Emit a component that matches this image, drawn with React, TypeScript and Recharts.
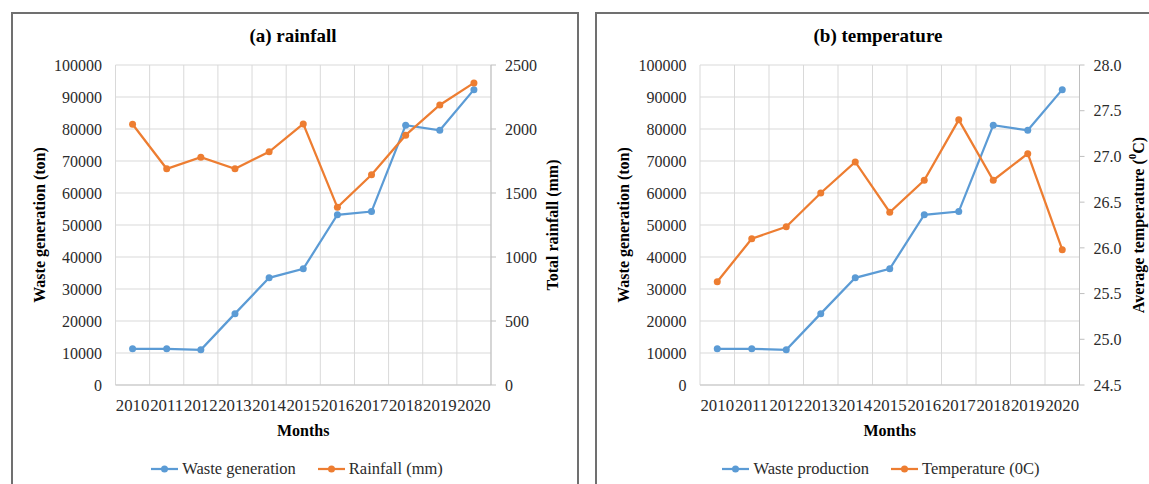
import { LineChart, Line, XAxis, YAxis, CartesianGrid, Label } from "recharts";

const years = ["2010", "2011", "2012", "2013", "2014", "2015", "2016", "2017", "2018", "2019", "2020"];
const wasteTon = [11300, 11300, 11000, 22300, 33500, 36300, 53200, 54200, 81200, 79600, 92300];
const rainfallMm = [2037, 1689, 1780, 1689, 1822, 2040, 1388, 1642, 1952, 2188, 2360];
const temperatureC = [25.63, 26.1, 26.23, 26.6, 26.94, 26.39, 26.74, 27.4, 26.74, 27.03, 25.98];

const wasteTicks = [0, 10000, 20000, 30000, 40000, 50000, 60000, 70000, 80000, 90000, 100000];
const rainfallTicks = [0, 500, 1000, 1500, 2000, 2500];
const temperatureTicks = [24.5, 25, 25.5, 26, 26.5, 27, 27.5, 28];

const BLUE = "#5B9BD5";
const ORANGE = "#ED7D31";
const GRID = "#d9d9d9";
const TEXT = "#2b2b2b";
const FONT = '"Liberation Serif", "Times New Roman", serif';

const rainfallData = years.map((year, i) => ({ year, waste: wasteTon[i], other: rainfallMm[i] }));
const temperatureData = years.map((year, i) => ({ year, waste: wasteTon[i], other: temperatureC[i] }));

// vertical grid lines sit between categories, like excel's category axis
const boundaryLines = (props: any) => {
  const { offset } = props;
  const step = offset.width / years.length;
  return years.map((_, i) => offset.left + i * step).concat(offset.left + offset.width);
};

function LegendItem({ color, name }: { color: string; name: string }) {
  return (
    <span style={{ display: "inline-flex", alignItems: "center" }}>
      <svg width={27} height={10}>
        <line x1={0} y1={5} x2={27} y2={5} stroke={color} strokeWidth={2.25} />
        <circle cx={13.5} cy={5} r={3.5} fill={color} />
      </svg>
      <span style={{ marginLeft: 4 }}>{name}</span>
    </span>
  );
}

type PanelProps = {
  x: number;
  width: number;
  data: any[];
  title: string;
  titleCenter: number;
  legendCenter: number;
  wasteName: string;
  otherName: string;
  margin: { top: number; right: number; bottom: number; left: number };
  leftWidth: number;
  rightWidth: number;
  rightDomain: [number, number];
  rightTicks: number[];
  rightFormat: (v: number) => string;
  rightTitle: (x: number, y: number) => any;
  rightTitleOffset: number;
};

function Panel(p: PanelProps) {
  const plotWidth = p.width - p.margin.left - p.margin.right - p.leftWidth - p.rightWidth;
  const half = plotWidth / years.length / 2;
  return (
    <div style={{ position: "absolute", left: p.x, top: 0, width: p.width, height: 484, fontFamily: FONT }}>
      <div
        style={{
          position: "absolute",
          left: p.titleCenter - 150,
          width: 300,
          top: 24,
          textAlign: "center",
          fontWeight: "bold",
          fontSize: 19,
          lineHeight: "24px",
          color: "#000",
        }}
      >
        {p.title}
      </div>
      <LineChart width={p.width} height={484} data={p.data} margin={p.margin}>
        <CartesianGrid
          yAxisId="left"
          stroke={GRID}
          strokeWidth={1}
          verticalCoordinatesGenerator={boundaryLines}
        />
        <XAxis
          dataKey="year"
          interval={0}
          height={60}
          padding={{ left: half, right: half }}
          tickLine={false}
          tickSize={0}
          tickMargin={14}
          stroke="#c6c6c6"
          tick={{ fontSize: 16.8, fill: TEXT, fontFamily: FONT }}
        >
          <Label
            content={(lp: any) => {
              const vb = lp.viewBox;
              return (
                <text
                  x={vb.x + vb.width / 2}
                  y={vb.y + 45}
                  textAnchor="middle"
                  dominantBaseline="central"
                  fontFamily={FONT}
                  fontWeight="bold"
                  fontSize={16}
                  fill="#000"
                >
                  Months
                </text>
              );
            }}
          />
        </XAxis>
        <YAxis
          yAxisId="left"
          width={p.leftWidth}
          domain={[0, 100000]}
          ticks={wasteTicks}
          interval={0}
          axisLine={false}
          tickLine={false}
          tickSize={0}
          tickMargin={13.5}
          tick={{ fontSize: 16, fill: TEXT, fontFamily: FONT }}
        >
          <Label
            content={(lp: any) => {
              const vb = lp.viewBox;
              const cx = vb.x + 23.5;
              const cy = vb.y + vb.height / 2;
              return (
                <text
                  x={cx}
                  y={cy}
                  transform={`rotate(-90 ${cx} ${cy})`}
                  textAnchor="middle"
                  dominantBaseline="central"
                  fontFamily={FONT}
                  fontWeight="bold"
                  fontSize={16}
                  fill="#000"
                >
                  Waste generation (ton)
                </text>
              );
            }}
          />
        </YAxis>
        <YAxis
          yAxisId="right"
          orientation="right"
          width={p.rightWidth}
          domain={p.rightDomain}
          ticks={p.rightTicks}
          interval={0}
          tickFormatter={p.rightFormat}
          stroke="#bfbfbf"
          tickSize={5}
          tickMargin={9}
          tick={{ fontSize: 16, fill: TEXT, fontFamily: FONT }}
        >
          <Label
            content={(lp: any) => {
              const vb = lp.viewBox;
              return p.rightTitle(vb.x + p.rightTitleOffset, vb.y + vb.height / 2);
            }}
          />
        </YAxis>
        <Line
          yAxisId="left"
          dataKey="waste"
          name={p.wasteName}
          stroke={BLUE}
          strokeWidth={2.25}
          dot={{ r: 3.5, fill: BLUE, stroke: "none" }}
          activeDot={false}
          isAnimationActive={false}
        />
        <Line
          yAxisId="right"
          dataKey="other"
          name={p.otherName}
          stroke={ORANGE}
          strokeWidth={2.25}
          dot={{ r: 3.5, fill: ORANGE, stroke: "none" }}
          activeDot={false}
          isAnimationActive={false}
        />
      </LineChart>
      <div
        style={{
          position: "absolute",
          left: p.legendCenter - 250,
          width: 500,
          top: 459,
          height: 20,
          display: "flex",
          justifyContent: "center",
          alignItems: "center",
          gap: 22,
          fontSize: 16.5,
          color: TEXT,
          lineHeight: "20px",
        }}
      >
        <LegendItem color={BLUE} name={p.wasteName} />
        <LegendItem color={ORANGE} name={p.otherName} />
      </div>
    </div>
  );
}

const rotatedTitle = (cx: number, cy: number, children: any) => (
  <text
    x={cx}
    y={cy}
    transform={`rotate(-90 ${cx} ${cy})`}
    textAnchor="middle"
    dominantBaseline="central"
    fontFamily={FONT}
    fontWeight="bold"
    fontSize={16}
    fill="#000"
  >
    {children}
  </text>
);

export default function App() {
  return (
    <div
      style={{
        position: "absolute",
        left: 0,
        top: 0,
        width: 1149,
        height: 484,
        overflow: "hidden",
        background: "#fff",
      }}
    >
      <div
        style={{
          position: "absolute",
          left: 11,
          top: 12,
          width: 568,
          height: 500,
          boxSizing: "border-box",
          border: "2px solid #707070",
        }}
      />
      <div
        style={{
          position: "absolute",
          left: 595,
          top: 12,
          width: 568,
          height: 500,
          boxSizing: "border-box",
          border: "2px solid #707070",
        }}
      />
      <Panel
        x={0}
        width={580}
        data={rainfallData}
        title="(a) rainfall"
        titleCenter={293}
        legendCenter={297}
        wasteName="Waste generation"
        otherName="Rainfall (mm)"
        margin={{ top: 65, right: 9, bottom: 39, left: 15.5 }}
        leftWidth={100}
        rightWidth={80}
        rightDomain={[0, 2500]}
        rightTicks={rainfallTicks}
        rightFormat={(v) => String(v)}
        rightTitle={(x, y) => rotatedTitle(x, y, "Total rainfall  (mm)")}
        rightTitleOffset={61}
      />
      <Panel
        x={580}
        width={569}
        data={temperatureData}
        title="(b) temperature"
        titleCenter={298}
        legendCenter={301}
        wasteName="Waste production"
        otherName="Temperature (0C)"
        margin={{ top: 65, right: 9.5, bottom: 39, left: 20 }}
        leftWidth={100}
        rightWidth={60}
        rightDomain={[24.5, 28]}
        rightTicks={temperatureTicks}
        rightFormat={(v) => v.toFixed(1)}
        rightTitle={(x, y) =>
          rotatedTitle(
            x,
            y,
            <>
              Average temperature  (
              <tspan dy={-6} fontSize={11}>
                0
              </tspan>
              <tspan dy={6}>C)</tspan>
            </>
          )
        }
        rightTitleOffset={58.5}
      />
    </div>
  );
}
